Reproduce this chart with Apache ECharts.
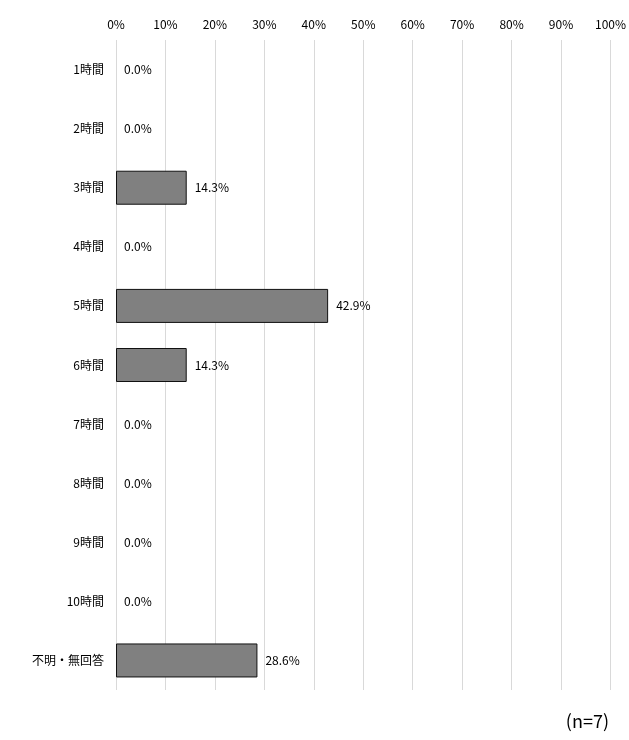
<!DOCTYPE html>
<html><head><meta charset="utf-8">
<script src="https://cdn.jsdelivr.net/npm/echarts@6/dist/echarts.min.js"></script>
<style>html,body{margin:0;padding:0;background:#fff}#c{width:629px;height:740px}</style>
</head><body><div id="c"></div>
<script>
const categories = ['1時間','2時間','3時間','4時間','5時間','6時間','7時間','8時間','9時間','10時間','不明・無回答'];
const values = [0.0, 0.0, 14.3, 0.0, 42.9, 14.3, 0.0, 0.0, 0.0, 0.0, 28.6];
const tickLabels = ['0%','10%','20%','30%','40%','50%','60%','70%','80%','90%','100%'];
const note = '(n=7)';
const font = '"Liberation Sans Narrow", "Noto Sans CJK JP", sans-serif';
const chart = echarts.init(document.getElementById('c'));
chart.setOption({
  animation: false,
  grid: {left: 116, right: 18, top: 40, bottom: 50},
  xAxis: {
    type: 'value', position: 'top', min: 0, max: 100, interval: 10,
    axisLine: {show: false}, axisTick: {show: false},
    axisLabel: {color: '#000', fontSize: 12, fontFamily: font, margin: 10,
      formatter: v => tickLabels[Math.round(v/10)]},
    splitLine: {show: true, lineStyle: {color: '#d9d9d9', width: 1}}
  },
  yAxis: {
    type: 'category', data: categories, inverse: true,
    axisLine: {show: false}, axisTick: {show: false},
    axisLabel: {color: '#000', fontSize: 12, fontFamily: font, margin: 12}
  },
  series: [{
    type: 'bar', barWidth: 34,
    data: values.map(v => v === 0 ? {value: v, itemStyle: {borderWidth: 0}} : v),
    itemStyle: {color: '#808080', borderColor: '#111', borderWidth: 1},
    label: {show: true, position: 'right', distance: 8, color: '#000', fontSize: 12, fontFamily: font,
      formatter: p => p.value.toFixed(1) + '%'}
  }],
  graphic: [{type: 'text', right: 20, top: 712,
    style: {text: note, fontSize: 18, fontFamily: font, fill: '#000'}}]
});
</script></body></html>
